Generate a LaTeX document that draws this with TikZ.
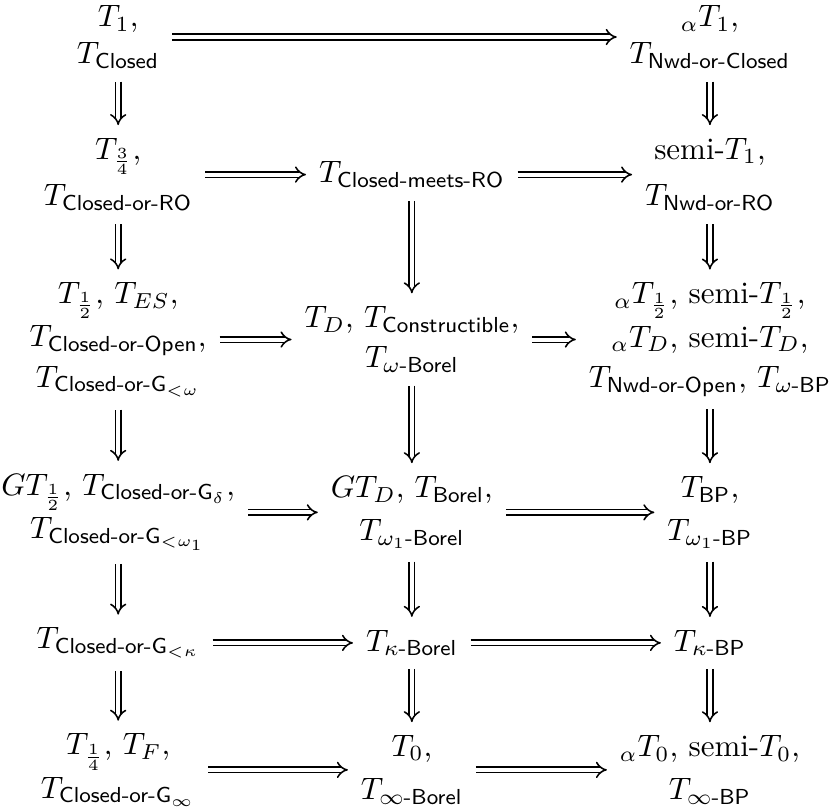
\documentclass[tikz,border=0pt]{standalone}
\usepackage{amsmath}
\usetikzlibrary{arrows.meta}
\tikzstyle{term}=[align=center, inner sep=3pt]
\tikzstyle{imp}=[double, line width=0.5pt, double distance=1.3pt, -{Implies}, shorten >=1pt, shorten <=1pt]

\begin{document}
\begin{tikzpicture}[every node/.style=term]
\useasboundingbox (0,0) rectangle (9.40,9.19);

\node (a1) at (1.34,8.77) {$T_1$,\\ $T_{\textsf{Closed}}$};
\node (c1) at (8.05,8.77) {${}_\alpha T_1$,\\ $T_{\textsf{Nwd-or-Closed}}$};

\node (a2) at (1.34,7.21) {$T_{\frac34}$,\\[3pt] $T_{\textsf{Closed-or-RO}}$};
\node (b2) at (4.67,7.21) {$T_{\textsf{Closed-meets-RO}}$};
\node (c2) at (8.05,7.21) {semi-$T_1$,\\[3pt] $T_{\textsf{Nwd-or-RO}}$};

\node (a3) at (1.34,5.34) {$T_{\frac12}$, $T_{ES}$,\\[2pt] $T_{\textsf{Closed-or-Open}}$,\\[1pt] $T_{\textsf{Closed-or-G}_{<\omega}}$};
\node (b3) at (4.67,5.34) {$T_D$, $T_{\textsf{Constructible}}$,\\[1pt] $T_{\omega\textsf{-Borel}}$};
\node (c3) at (8.05,5.34) {${}_\alpha T_{\frac12}$, semi-$T_{\frac12}$,\\[2pt] ${}_\alpha T_D$, semi-$T_D$,\\[1pt] $T_{\textsf{Nwd-or-Open}}$, $T_{\omega\textsf{-BP}}$};

\node (a4) at (1.34,3.38) {$GT_{\frac12}$, $T_{\textsf{Closed-or-G}_\delta}$,\\[2pt] $T_{\textsf{Closed-or-G}_{<\omega_1}}$};
\node (b4) at (4.67,3.38) {$GT_D$, $T_{\textsf{Borel}}$,\\[2pt] $T_{\omega_1\textsf{-Borel}}$};
\node (c4) at (8.05,3.38) {$T_{\textsf{BP}}$,\\[2pt] $T_{\omega_1\textsf{-BP}}$};

\node (a5) at (1.34,1.90) {$T_{\textsf{Closed-or-G}_{<\kappa}}$};
\node (b5) at (4.67,1.90) {$T_{\kappa\textsf{-Borel}}$};
\node (c5) at (8.05,1.90) {$T_{\kappa\textsf{-BP}}$};

\node (a6) at (1.34,0.46) {$T_{\frac14}$, $T_F$,\\[2pt] $T_{\textsf{Closed-or-G}_\infty}$};
\node (b6) at (4.67,0.46) {$T_0$,\\[2pt] $T_{\infty\textsf{-Borel}}$};
\node (c6) at (8.05,0.46) {${}_\alpha T_0$, semi-$T_0$,\\[2pt] $T_{\infty\textsf{-BP}}$};

% rows
\draw[imp] (a1) -- (c1);
\draw[imp] (a2) -- (b2);
\draw[imp] (b2) -- (c2);
\draw[imp] (a3) -- (b3);
\draw[imp] (b3) -- (c3);
\draw[imp] (a4) -- (b4);
\draw[imp] (b4) -- (c4);
\draw[imp] (a5) -- (b5);
\draw[imp] (b5) -- (c5);
\draw[imp] (a6) -- (b6);
\draw[imp] (b6) -- (c6);
% columns
\draw[imp] (a1) -- (a2);
\draw[imp] (a2) -- (a3);
\draw[imp] (a3) -- (a4);
\draw[imp] (a4) -- (a5);
\draw[imp] (a5) -- (a6);
\draw[imp] (b2) -- (b3);
\draw[imp] (b3) -- (b4);
\draw[imp] (b4) -- (b5);
\draw[imp] (b5) -- (b6);
\draw[imp] (c1) -- (c2);
\draw[imp] (c2) -- (c3);
\draw[imp] (c3) -- (c4);
\draw[imp] (c4) -- (c5);
\draw[imp] (c5) -- (c6);
\end{tikzpicture}
\end{document}
